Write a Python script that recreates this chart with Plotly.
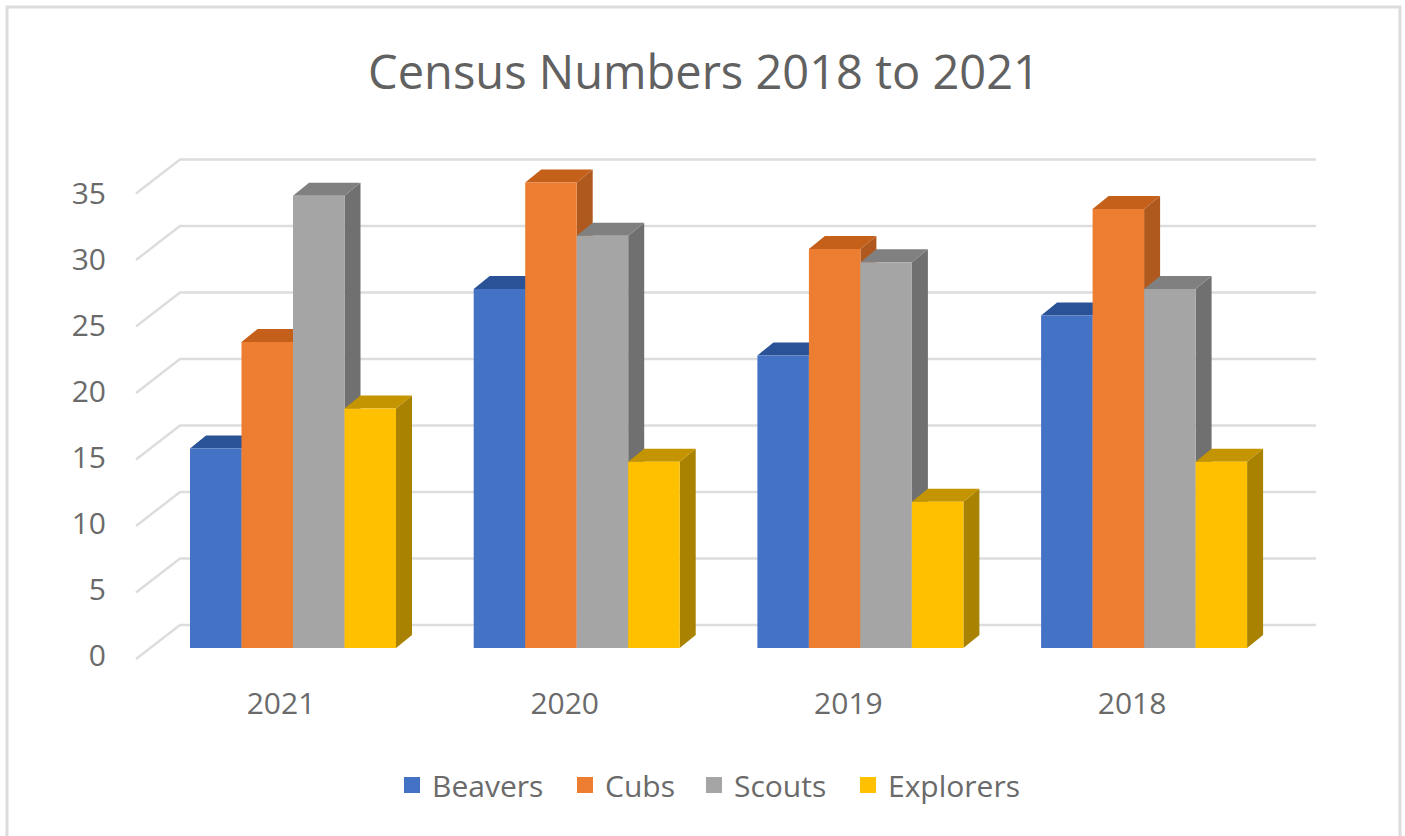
import plotly.graph_objects as go

categories = ["2021", "2020", "2019", "2018"]
series_names = ["Beavers", "Cubs", "Scouts", "Explorers"]
beavers = [15, 27, 22, 25]
cubs = [23, 35, 30, 33]
scouts = [34, 31, 29, 27]
explorers = [18, 14, 11, 14]
series_values = [beavers, cubs, scouts, explorers]
y_ticks = [0, 5, 10, 15, 20, 25, 30, 35]

front_colors = ["#4472C4", "#ED7D31", "#A5A5A5", "#FFC000"]
side_colors = ["#2F5597", "#B0591F", "#707070", "#A88200"]
top_colors = ["#2A5296", "#C4601A", "#808080", "#C49500"]
legend_px = [392, 565, 694, 848]

W, H = 1405, 836
PL, PR, PT, PB = 135, 1320, 150, 665
X0_PX, X_UNIT = 293.0, 283.7
Y0_PX, Y_UNIT = 648.0, 13.3
LBL0_PX, LBL_UNIT = 655.0, 13.2
BAR_W = 51.5 / X_UNIT
DX, DY = 16 / X_UNIT, 13 / Y_UNIT
GX0, GX1, GX2 = (136 - X0_PX) / X_UNIT, (180 - X0_PX) / X_UNIT, (1316 - X0_PX) / X_UNIT
GY_FRONT, GY_BACK = (Y0_PX - 659) / Y_UNIT, (Y0_PX - 625) / Y_UNIT
LABEL_SHIFT = -12 / X_UNIT
N = len(series_names)

fig = go.Figure()

# invisible trace that brings the tick-label axis to life
fig.add_trace(go.Scatter(x=[0, 0], y=[y_ticks[0], y_ticks[-1]], yaxis="y", mode="lines",
                         line=dict(width=0, color="rgba(0,0,0,0)"), showlegend=False, hoverinfo="skip"))

# receding wall gridlines
gx, gy = [], []
for v in y_ticks:
    gx += [GX0, GX1, GX2, None]
    gy += [v + GY_FRONT, v + GY_BACK, v + GY_BACK, None]
fig.add_trace(go.Scatter(x=gx, y=gy, yaxis="y2", mode="lines",
                         line=dict(color="#DDDDDD", width=2.5), showlegend=False, hoverinfo="skip"))

# depth faces of the bars, from left to right
for s in range(N):
    sx, sy, tx, ty = [], [], [], []
    for c, v in enumerate(series_values[s]):
        left = c + (s - N / 2) * BAR_W
        right = left + BAR_W
        sx += [right, right + DX, right + DX, right, right, None]
        sy += [0, DY, v + DY, v, 0, None]
        tx += [left, left + DX, right + DX, right, left, None]
        ty += [v, v + DY, v + DY, v, v, None]
    fig.add_trace(go.Scatter(x=sx, y=sy, yaxis="y2", mode="lines", fill="toself", fillcolor=side_colors[s],
                             line=dict(width=0, color=side_colors[s]), showlegend=False, hoverinfo="skip"))
    fig.add_trace(go.Scatter(x=tx, y=ty, yaxis="y2", mode="lines", fill="toself", fillcolor=top_colors[s],
                             line=dict(width=0, color=top_colors[s]), showlegend=False, hoverinfo="skip"))

# front faces
for s in range(N):
    fig.add_trace(go.Bar(x=list(range(len(categories))), y=series_values[s], name=series_names[s], yaxis="y3",
                         legendgroup=series_names[s], showlegend=False,
                         marker=dict(color=front_colors[s], line=dict(width=0))))

# legend entries, one legend each so that every entry sits where the reference has it
legend_layout = {}
for s in range(N):
    key = "legend" if s == 0 else f"legend{s + 1}"
    fig.add_trace(go.Scatter(x=[None], y=[None], yaxis="y3", mode="markers", name=series_names[s],
                             legendgroup=series_names[s], legend=key,
                             marker=dict(symbol="square", size=20, color=front_colors[s], line=dict(width=0))))
    legend_layout[key] = dict(orientation="h", x=legend_px[s] / W, xref="container", xanchor="left",
                              y=1 - 785 / H, yref="container", yanchor="middle", itemsizing="trace",
                              font=dict(family="Open Sans", size=30, color="#6A6A6A"), itemwidth=30,
                              bgcolor="rgba(0,0,0,0)", borderwidth=0)

axis_font = dict(family="Open Sans", size=30, color="#6A6A6A")
fig.update_layout(
    width=W, height=H, autosize=False,
    margin=dict(l=PL, r=W - PR, t=PT, b=H - PB, pad=0, autoexpand=False),
    paper_bgcolor="white", plot_bgcolor="rgba(0,0,0,0)",
    barmode="group", bargap=1 - N * BAR_W, bargroupgap=0,
    title=dict(text="Census Numbers 2018 to 2021", x=704 / W, xref="container", xanchor="center",
               y=1 - 73 / H, yref="container", yanchor="middle",
               font=dict(family="Open Sans", size=47, color="#616161")),
    xaxis=dict(range=[(PL - X0_PX) / X_UNIT, (PR - X0_PX) / X_UNIT], tickmode="array",
               tickvals=[c + LABEL_SHIFT for c in range(len(categories))], ticktext=categories,
               ticks="outside", ticklen=12, tickcolor="rgba(0,0,0,0)", showgrid=False, zeroline=False,
               showline=False, tickfont=axis_font),
    yaxis=dict(range=[(LBL0_PX - PB) / LBL_UNIT, (LBL0_PX - PT) / LBL_UNIT], tickmode="array", tickvals=y_ticks,
               ticks="outside", ticklen=22, tickcolor="rgba(0,0,0,0)", showgrid=False, zeroline=False,
               showline=False, tickfont=axis_font),
    yaxis2=dict(range=[(Y0_PX - PB) / Y_UNIT, (Y0_PX - PT) / Y_UNIT], overlaying="y", visible=False),
    yaxis3=dict(range=[(Y0_PX - PB) / Y_UNIT, (Y0_PX - PT) / Y_UNIT], overlaying="y", visible=False),
    shapes=[dict(type="path", xref="paper", yref="paper", layer="below",
                 path="M {0} {1} L {0} {2} L {3} {2} L {3} {1}".format(
                     (7 - PL) / (PR - PL), (PB - 836) / (PB - PT), (PB - 7) / (PB - PT), (1400 - PL) / (PR - PL)),
                 line=dict(color="#DCDCDC", width=3))],
    **legend_layout,
)

fig.write_html("out.html", config={"displayModeBar": False}, post_script="document.body.style.margin='0';")
